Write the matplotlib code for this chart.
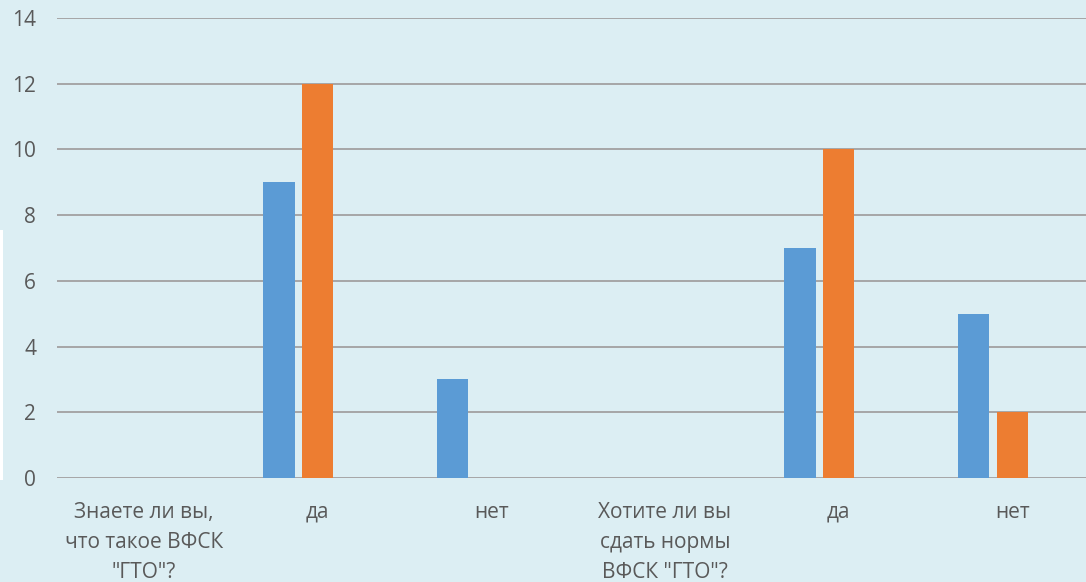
import matplotlib
matplotlib.use("Agg")
import matplotlib.pyplot as plt
from matplotlib.patches import Rectangle
import numpy as np

plt.rcParams['font.family'] = ['Open Sans', 'DejaVu Sans']

categories = ['Знаете ли вы,\nчто такое ВФСК\n"ГТО"?', 'да', 'нет',
              'Хотите ли вы\nсдать нормы\nВФСК "ГТО"?', 'да', 'нет']
series1 = [0, 9, 3, 0, 7, 5]
series2 = [0, 12, 0, 0, 10, 2]
series3 = [0, 0, 0, 0, 0, 0]
yticks = [0, 2, 4, 6, 8, 10, 12, 14]

bg = '#DCEEF3'
W, H = 1086, 582
fig = plt.figure(figsize=(W / 100, H / 100), dpi=100, facecolor=bg)
left_px, right_px, bottom_px, top_px = 57, 1099, 104, 564
ax = fig.add_axes([left_px / W, bottom_px / H, (right_px - left_px) / W, (top_px - bottom_px) / H])
ax.set_facecolor(bg)

x = np.arange(len(categories))
bw = 0.18
off = 0.222
ax.bar(x - off, series1, width=bw, color='#5B9BD5', zorder=3)
ax.bar(x, series2, width=bw, color='#ED7D31', zorder=3)
ax.bar(x + off, series3, width=bw, color='#A5A5A5', zorder=3)

ax.set_xlim(-0.5, 5.5)
ax.set_ylim(0, 14)
ax.set_yticks(yticks)
ax.set_xticks(x)
ax.set_xticklabels(categories, fontsize=15, color='#595959', linespacing=1.57)
ax.tick_params(axis='x', length=0, pad=17)
ax.tick_params(axis='y', length=0, pad=15, labelsize=15, labelcolor='#595959')
ax.grid(axis='y', color='#A6A6A6', linewidth=1.4, zorder=0)
ax.set_axisbelow(True)
for s in ax.spines.values():
    s.set_visible(False)
for lab in ax.get_xticklabels():
    lab.set_verticalalignment('top')

fig.patches.append(Rectangle((0, 102 / H), 3 / W, (352 - 102) / H, transform=fig.transFigure,
                             facecolor='white', edgecolor='none', zorder=0))

fig.savefig('out.png', dpi=100, facecolor=bg)
